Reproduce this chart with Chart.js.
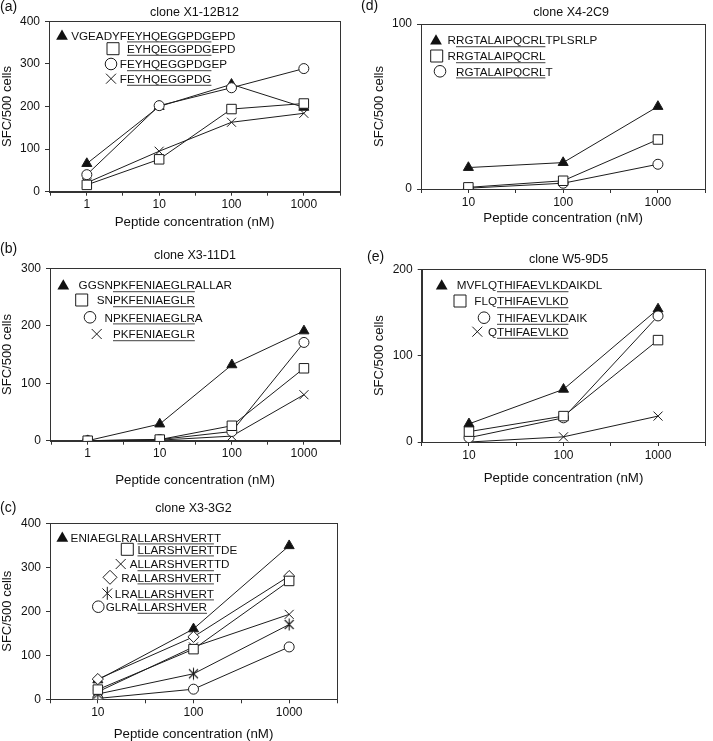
<!DOCTYPE html>
<html>
<head>
<meta charset="utf-8">
<script src="https://cdn.jsdelivr.net/npm/chart.js"></script>
<style>
  html, body { margin: 0; padding: 0; background: #fff; overflow: hidden; }
  body { width: 713px; height: 741px; position: relative; }
  canvas { position: absolute; }
</style>
</head>
<body>
<canvas id="chartA"></canvas>
<canvas id="chartB"></canvas>
<canvas id="chartC"></canvas>
<canvas id="chartD"></canvas>
<canvas id="chartE"></canvas>
<script>
// concentrazioni dei peptidi (nM)
var concAB = [1, 10, 100, 1000];
var concCDE = [10, 100, 1000];

// (a) clone X1-12B12
var aTriangle = [66, 200, 252, 198];
var aSquare = [16, 76, 194, 207];
var aCircle = [40, 202, 244, 289];
var aCross = [21, 95, 163, 184];
var aPeptides = [["VGEADYF", "EYHQEGGPDG", "EPD"], ["", "EYHQEGGPDG", "EPD"], ["F", "EYHQEGGPDG", "EP"], ["F", "EYHQEGGPDG", ""]];

// (b) clone X3-11D1
var bTriangle = [0, 29, 132, 191];
var bSquare = [0, 2, 26, 126];
var bCircle = [0, 2, 16, 171];
var bCross = [0, 1, 8, 80];
var bPeptides = [["GGSN", "PKFENIAEGLR", "ALLAR"], ["SN", "PKFENIAEGLR", ""], ["N", "PKFENIAEGLR", "A"], ["", "PKFENIAEGLR", ""]];

// (c) clone X3-3G2
var cTriangle = [44, 160, 349];
var cSquare = [22, 114, 269];
var cCross = [17, 119, 193];
var cDiamond = [46, 142, 280];
var cStar = [12, 58, 170];
var cCircle = [2, 23, 119];
var cPeptides = [["ENIAEGLRA", "LLARSHVERT", "T"], ["", "LLARSHVERT", "TDE"], ["A", "LLARSHVERT", "TD"], ["RA", "LLARSHVERT", "T"], ["LRA", "LLARSHVERT", ""], ["GLRA", "LLARSHVER", ""]];

// (d) clone X4-2C9
var dTriangle = [13, 16, 50];
var dSquare = [1, 5, 30];
var dCircle = [0.5, 3.5, 15];
var dPeptides = [["R", "RGTALAIPQCRL", "TPLSRLP"], ["R", "RGTALAIPQCRL", ""], ["", "RGTALAIPQCRL", "T"]];

// (e) clone W5-9D5
var eTriangle = [21, 61, 154];
var eSquare = [12, 30, 118];
var eCircle = [5, 28, 146];
var eCross = [0, 6, 30];
var ePeptides = [["MVFLQ", "THIFAEVLKD", "AIKDL"], ["FLQ", "THIFAEVLKD", ""], ["", "THIFAEVLKD", "AIK"], ["Q", "THIFAEVLKD", ""]];

var INK = '#111';
var LINE = '#1c1c1c';
var FONT = '"Liberation Sans", Arial, Helvetica, sans-serif';

Chart.defaults.font.family = FONT;
Chart.defaults.color = INK;
Chart.defaults.animation = false;

// asterisco (X + barra verticale)
function drawStar(g, x, y, r) {
  var d = r * 0.75;
  g.beginPath();
  g.moveTo(x, y - r); g.lineTo(x, y + r);
  g.moveTo(x - d, y - d); g.lineTo(x + d, y + d);
  g.moveTo(x - d, y + d); g.lineTo(x + d, y - d);
  g.stroke();
}
function starImage(r) {
  var c = document.createElement('canvas');
  var s = Math.ceil(2 * r + 3);
  c.width = s; c.height = s;
  var g = c.getContext('2d');
  g.strokeStyle = LINE; g.lineWidth = 1.1;
  drawStar(g, s / 2, s / 2, r);
  return c;
}
var starPoint = starImage(6);

// stili dei marker per i dati
var markers = {
  triangle: { pointStyle: 'triangle', pointRadius: 5.8, pointBackgroundColor: '#111' },
  rect: { pointStyle: 'rect', pointRadius: 6.7, pointBackgroundColor: '#fff' },
  circle: { pointStyle: 'circle', pointRadius: 5, pointBackgroundColor: '#fff' },
  crossRot: { pointStyle: 'crossRot', pointRadius: 6.4, pointBackgroundColor: '#fff' },
  rectRot: { pointStyle: 'rectRot', pointRadius: 5.6, pointBackgroundColor: '#fff' },
  star: { pointStyle: starPoint, pointRadius: 6, pointBackgroundColor: '#fff' }
};

// marker della legenda (piu grandi)
function legendMarker(ctx, style, x, y) {
  ctx.save();
  ctx.strokeStyle = LINE; ctx.lineWidth = 1; ctx.fillStyle = '#fff';
  ctx.beginPath();
  if (style === 'triangle') {
    var r = 6.8;
    for (var k = 0; k < 3; k++) {
      var a = k * 2 * Math.PI / 3;
      if (k === 0) ctx.moveTo(x + r * Math.sin(a), y - r * Math.cos(a) + 1);
      else ctx.lineTo(x + r * Math.sin(a), y - r * Math.cos(a) + 1);
    }
    ctx.closePath(); ctx.fillStyle = '#111'; ctx.fill();
  } else if (style === 'rect') {
    ctx.rect(x - 6, y - 6, 12, 12); ctx.fill(); ctx.stroke();
  } else if (style === 'circle') {
    ctx.arc(x, y, 5.8, 0, Math.PI * 2); ctx.fill(); ctx.stroke();
  } else if (style === 'crossRot') {
    ctx.moveTo(x - 5, y - 5); ctx.lineTo(x + 5, y + 5);
    ctx.moveTo(x - 5, y + 5); ctx.lineTo(x + 5, y - 5); ctx.stroke();
  } else if (style === 'rectRot') {
    ctx.moveTo(x - 7, y); ctx.lineTo(x, y - 7); ctx.lineTo(x + 7, y); ctx.lineTo(x, y + 7);
    ctx.closePath(); ctx.fill(); ctx.stroke();
  } else if (style === 'star') {
    drawStar(ctx, x, y, 6.5);
  }
  ctx.restore();
}

// layout di ogni pannello
var panels = {
  chartA: { left: 0, top: 0, w: 356, h: 232, padTop: 21.3, padRight: 16, yWidth: 49, xHeight: 40.3, yTitlePad: 0,
    title: 'clone X1-12B12', titleDy: 8.6, titleDx: 0, tag: '(a)', tagX: 0, tagY: 7.5,
    coreX: 78, rowY: [14, 27.4, 42.7, 57.4], markX: [13, 64, 62, 62] },
  chartB: { left: 0, top: 236, w: 356, h: 254, padTop: 32.3, padRight: 16, yWidth: 50, xHeight: 49.3, yTitlePad: 0,
    title: 'clone X3-11D1', titleDy: 12.3, titleDx: 0, tag: '(b)', tagX: 0, tagY: 13,
    coreX: 63, rowY: [16.7, 31.7, 49, 65.7], markX: [13.3, 31.7, 40, 46.7] },
  chartC: { left: 0, top: 492, w: 356, h: 252, padTop: 31.3, padRight: 19, yWidth: 50, xHeight: 44.7, yTitlePad: 0,
    title: 'clone X3-3G2', titleDy: 14.3, titleDx: 0, tag: '(c)', tagX: 0, tagY: 16,
    coreX: 87.5, rowY: [14, 26, 40.7, 54, 70, 83.4], markX: [12.3, 77.3, 70.7, 60, 57.3, 48.3] },
  chartD: { left: 360, top: 0, w: 353, h: 228, padTop: 24, padRight: 2, yWidth: 61, xHeight: 39, yTitlePad: 11.2,
    title: 'clone X4-2C9', titleDy: 11.7, titleDx: 8, tag: '(d)', tagX: 1, tagY: 6.5,
    coreX: 35, rowY: [16, 32, 47.3], markX: [15, 15.7, 19] },
  chartE: { left: 360, top: 236, w: 353, h: 252, padTop: 33.3, padRight: 2, yWidth: 61.7, xHeight: 46, yTitlePad: 11.2,
    title: 'clone W5-9D5', titleDy: 9.3, titleDx: 5, tag: '(e)', tagX: 7, tagY: 21,
    coreX: 75.3, rowY: [15.7, 31.7, 48.4, 62.4], markX: [20, 38.3, 62.3, 55.6] }
};

var sketchPlugin = {
  id: 'sketch',
  beforeDatasetsDraw: function (chart) {
    var ctx = chart.ctx, ca = chart.chartArea;
    var l = Math.round(ca.left), t = Math.round(ca.top), r = Math.round(ca.right), b = Math.round(ca.bottom);
    ctx.save();
    ctx.strokeStyle = '#333'; ctx.lineWidth = 1;
    ctx.strokeRect(l + 0.5, t + 0.5, r - l, b - t);
    ctx.restore();
  },
  afterDraw: function (chart) {
    var p = panels[chart.canvas.id];
    var ctx = chart.ctx, ca = chart.chartArea;
    ctx.save();
    ctx.fillStyle = INK;
    // lettera del pannello
    ctx.font = '14px ' + FONT;
    ctx.textAlign = 'left'; ctx.textBaseline = 'middle';
    ctx.fillText(p.tag, p.tagX, p.tagY);
    // titolo
    ctx.font = '12.5px ' + FONT;
    ctx.textAlign = 'center';
    ctx.fillText(p.title, (ca.left + ca.right) / 2 + p.titleDx, ca.top - p.titleDy);
    // legenda con sottolineatura
    ctx.font = '11.7px ' + FONT;
    ctx.textAlign = 'left'; ctx.textBaseline = 'alphabetic';
    chart.data.datasets.forEach(function (ds, i) {
      var parts = ds.peptide;
      var y = ca.top + p.rowY[i];
      var coreX = ca.left + p.coreX;
      var x0 = coreX - ctx.measureText(parts[0]).width;
      var coreW = ctx.measureText(parts[1]).width;
      legendMarker(ctx, ds.shape, ca.left + p.markX[i], y);
      ctx.fillStyle = INK;
      ctx.fillText(parts[0], x0, y + 4.2);
      ctx.fillText(parts[1], coreX, y + 4.2);
      ctx.fillText(parts[2], coreX + coreW, y + 4.2);
      ctx.strokeStyle = '#666'; ctx.lineWidth = 1.2;
      ctx.beginPath();
      ctx.moveTo(coreX, y + 6.6); ctx.lineTo(coreX + coreW, y + 6.6);
      ctx.stroke();
    });
    ctx.restore();
  }
};

function series(shape, values, conc, peptide, idx) {
  var pts = conc.map(function (c, i) { return { x: c, y: values[i] }; });
  var m = markers[shape];
  return {
    data: pts,
    shape: shape,
    peptide: peptide,
    borderColor: LINE,
    borderWidth: 1,
    pointStyle: m.pointStyle,
    pointRadius: m.pointRadius,
    pointBackgroundColor: m.pointBackgroundColor,
    pointBorderColor: LINE,
    pointBorderWidth: 1,
    tension: 0,
    order: idx === 0 ? 10 : idx
  };
}

function makeChart(id, minExp, yMax, list) {
  var p = panels[id];
  var canvas = document.getElementById(id);
  canvas.width = p.w; canvas.height = p.h;
  canvas.style.left = p.left + 'px'; canvas.style.top = p.top + 'px';
  canvas.style.width = p.w + 'px'; canvas.style.height = p.h + 'px';
  return new Chart(canvas, {
    type: 'line',
    data: { datasets: list },
    options: {
      responsive: false,
      animation: false,
      layout: { padding: { top: p.padTop, right: p.padRight, left: 0, bottom: 0 } },
      plugins: { legend: { display: false }, tooltip: { enabled: false } },
      scales: {
        x: {
          type: 'logarithmic',
          min: Math.pow(10, minExp),
          max: Math.pow(10, 3.5),
          afterBuildTicks: function (axis) {
            var t = [];
            for (var e = minExp; e <= 3.5 + 1e-9; e += 0.5) t.push({ value: Math.pow(10, e) });
            axis.ticks = t;
          },
          afterFit: function (s) { s.height = p.xHeight; },
          ticks: {
            autoSkip: false, maxRotation: 0, padding: 2, color: INK, font: { size: 12 },
            callback: function (v) {
              var l = Math.log10(v);
              return Math.abs(l - Math.round(l)) < 1e-6 ? String(Math.round(v)) : '';
            }
          },
          grid: { drawOnChartArea: false, tickLength: 4, color: '#333' },
          border: { color: '#333' },
          title: { display: true, text: 'Peptide concentration (nM)', color: INK, font: { size: 13.3 }, padding: { top: 0, bottom: 1.5 } }
        },
        y: {
          type: 'linear',
          min: 0,
          max: yMax,
          afterFit: function (s) { s.width = p.yWidth; },
          ticks: { stepSize: 100, padding: 5, color: INK, font: { size: 12 } },
          grid: { drawOnChartArea: false, tickLength: 4, color: '#333' },
          border: { color: '#333' },
          title: { display: true, text: 'SFC/500 cells', color: INK, font: { size: 13 }, padding: { top: p.yTitlePad, bottom: 0 } }
        }
      }
    },
    plugins: [sketchPlugin]
  });
}

makeChart('chartA', -0.5, 400, [
  series('triangle', aTriangle, concAB, aPeptides[0], 0),
  series('rect', aSquare, concAB, aPeptides[1], 1),
  series('circle', aCircle, concAB, aPeptides[2], 2),
  series('crossRot', aCross, concAB, aPeptides[3], 3)
]);

makeChart('chartB', -0.5, 300, [
  series('triangle', bTriangle, concAB, bPeptides[0], 0),
  series('rect', bSquare, concAB, bPeptides[1], 1),
  series('circle', bCircle, concAB, bPeptides[2], 2),
  series('crossRot', bCross, concAB, bPeptides[3], 3)
]);

makeChart('chartC', 0.5, 400, [
  series('triangle', cTriangle, concCDE, cPeptides[0], 0),
  series('rect', cSquare, concCDE, cPeptides[1], 1),
  series('crossRot', cCross, concCDE, cPeptides[2], 2),
  series('rectRot', cDiamond, concCDE, cPeptides[3], 3),
  series('star', cStar, concCDE, cPeptides[4], 4),
  series('circle', cCircle, concCDE, cPeptides[5], 5)
]);

makeChart('chartD', 0.5, 100, [
  series('triangle', dTriangle, concCDE, dPeptides[0], 0),
  series('rect', dSquare, concCDE, dPeptides[1], 1),
  series('circle', dCircle, concCDE, dPeptides[2], 2)
]);

makeChart('chartE', 0.5, 200, [
  series('triangle', eTriangle, concCDE, ePeptides[0], 0),
  series('rect', eSquare, concCDE, ePeptides[1], 1),
  series('circle', eCircle, concCDE, ePeptides[2], 2),
  series('crossRot', eCross, concCDE, ePeptides[3], 3)
]);
</script>
</body>
</html>
